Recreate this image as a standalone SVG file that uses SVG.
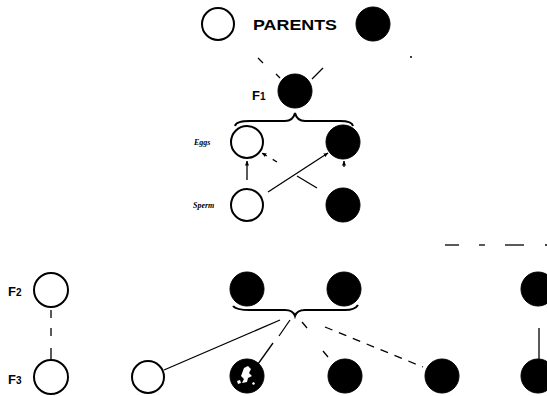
<svg xmlns="http://www.w3.org/2000/svg" width="547" height="396" viewBox="0 0 547 396">
<style>
.open{fill:#fff;stroke:#000;stroke-width:2}
.fill{fill:#000;stroke:#000;stroke-width:1}
.ln{stroke:#000;stroke-width:1.3;fill:none}
.dash{stroke:#000;stroke-width:1.3;fill:none;stroke-dasharray:8 7}
.brace{stroke:#000;stroke-width:2;fill:none}
.lbl{font-family:"Liberation Sans",Arial,sans-serif;font-weight:bold;fill:#000}
.sm{font-family:"Liberation Serif",serif;font-style:italic;font-weight:bold;fill:#000;font-size:8px}
</style>
<defs>
<marker id="ah" viewBox="0 0 10 10" refX="9" refY="5" markerWidth="5" markerHeight="5" orient="auto" markerUnits="userSpaceOnUse">
<path d="M0,1 L10,5 L0,9 z" fill="#000"/>
</marker>
</defs>
<rect width="547" height="396" fill="#fff"/>
<g id="connectors">
<line class="ln" x1="258" y1="58" x2="263" y2="63"/>
<line class="ln" x1="276" y1="74" x2="280" y2="78"/>
<line class="ln" x1="323" y1="68" x2="312" y2="79"/>
<circle cx="411" cy="57" r="1" fill="#000"/>
<path class="brace" d="M235,126 Q236,121 250,121 L285,121 Q293,121 295,113 Q297,121 305,121 L340,121 Q352,121 353,126"/>
<line class="ln" x1="247" y1="180" x2="247" y2="161" marker-end="url(#ah)"/>
<line class="ln" x1="277" y1="162" x2="262" y2="153" stroke-dasharray="5 7" marker-end="url(#ah)"/>
<line class="ln" x1="317" y1="188" x2="297" y2="176"/>
<line class="ln" x1="268" y1="192" x2="328" y2="153" marker-end="url(#ah)"/>
<line class="ln" x1="344" y1="167" x2="344" y2="161" marker-end="url(#ah)"/>
<path class="brace" d="M233,306 Q236,310 250,310 L285,310 Q293,310 295,316 Q297,310 305,310 L345,310 Q355,310 358,305"/>
<line class="ln" x1="51" y1="310" x2="51" y2="318"/>
<line class="ln" x1="51" y1="328" x2="51" y2="336"/>
<line class="ln" x1="51" y1="348" x2="51" y2="360"/>
<line class="ln" x1="280" y1="320" x2="164" y2="370"/>
<line class="ln" x1="290" y1="320" x2="279" y2="336"/>
<line class="ln" x1="273" y1="343" x2="258" y2="364"/>
<line class="ln" x1="302" y1="322" x2="307" y2="328"/>
<line class="ln" x1="323" y1="351" x2="328" y2="357"/>
<line class="dash" x1="325" y1="327" x2="423" y2="367" stroke-dasharray="2 14 3 14 8 10 2 14"/>
<line class="ln" x1="445" y1="245" x2="459" y2="245"/>
<line class="ln" x1="479" y1="245" x2="485" y2="245"/>
<line class="ln" x1="505" y1="245" x2="524" y2="245"/>
<line class="ln" x1="545" y1="245" x2="547" y2="245"/>
<line class="ln" x1="539" y1="328" x2="539" y2="361"/>
</g>
<g id="parent-white"><circle class="open" cx="218" cy="24" r="16"/></g>
<g id="parents-label"><text class="lbl" x="253" y="30" font-size="15" textLength="84" lengthAdjust="spacingAndGlyphs">PARENTS</text></g>
<g id="parent-black"><circle class="fill" cx="373" cy="24" r="17"/></g>
<g id="f1"><text class="lbl" x="252" y="100" font-size="13">F<tspan font-size="10">1</tspan></text><circle class="fill" cx="295" cy="91" r="17"/></g>
<g id="egg-white"><text class="sm" x="194" y="145">Eggs</text><circle class="open" cx="247" cy="142" r="16"/></g>
<g id="egg-black"><circle class="fill" cx="343" cy="142" r="17"/></g>
<g id="sperm-white"><text class="sm" x="193" y="208">Sperm</text><circle class="open" cx="247" cy="205" r="16"/></g>
<g id="sperm-black"><circle class="fill" cx="343" cy="205" r="17"/></g>
<g id="f2-white"><text class="lbl" x="8" y="296" font-size="13">F<tspan font-size="10">2</tspan></text><circle class="open" cx="51" cy="290" r="17"/></g>
<g id="f2-black1"><circle class="fill" cx="247" cy="289" r="17"/></g>
<g id="f2-black2"><circle class="fill" cx="344" cy="289" r="17"/></g>
<g id="f2-black3"><circle class="fill" cx="538" cy="289" r="17"/></g>
<g id="f3-white1"><text class="lbl" x="8" y="384" font-size="13">F<tspan font-size="10">3</tspan></text><circle class="open" cx="51" cy="377" r="17"/></g>
<g id="f3-white2"><circle class="open" cx="148" cy="377" r="16"/></g>
<g id="f3-mottled"><circle class="fill" cx="247" cy="376" r="17"/>
<path d="M244,368 l4,-2 l3,3 l-2,4 l3,3 l-4,2 l-1,4 l-5,1 l2,-4 l-3,-3 z" fill="#fff"/>
<path d="M237,381 l3,-1 l1,3 l-3,1 z" fill="#fff"/>
<path d="M252,383 l2,-1 l1,2 l-2,1 z" fill="#fff"/>
</g>
<g id="f3-black1"><circle class="fill" cx="345" cy="376" r="17"/></g>
<g id="f3-black2"><circle class="fill" cx="442" cy="376" r="17"/></g>
<g id="f3-black3"><circle class="fill" cx="538" cy="376" r="17"/></g>
</svg>
